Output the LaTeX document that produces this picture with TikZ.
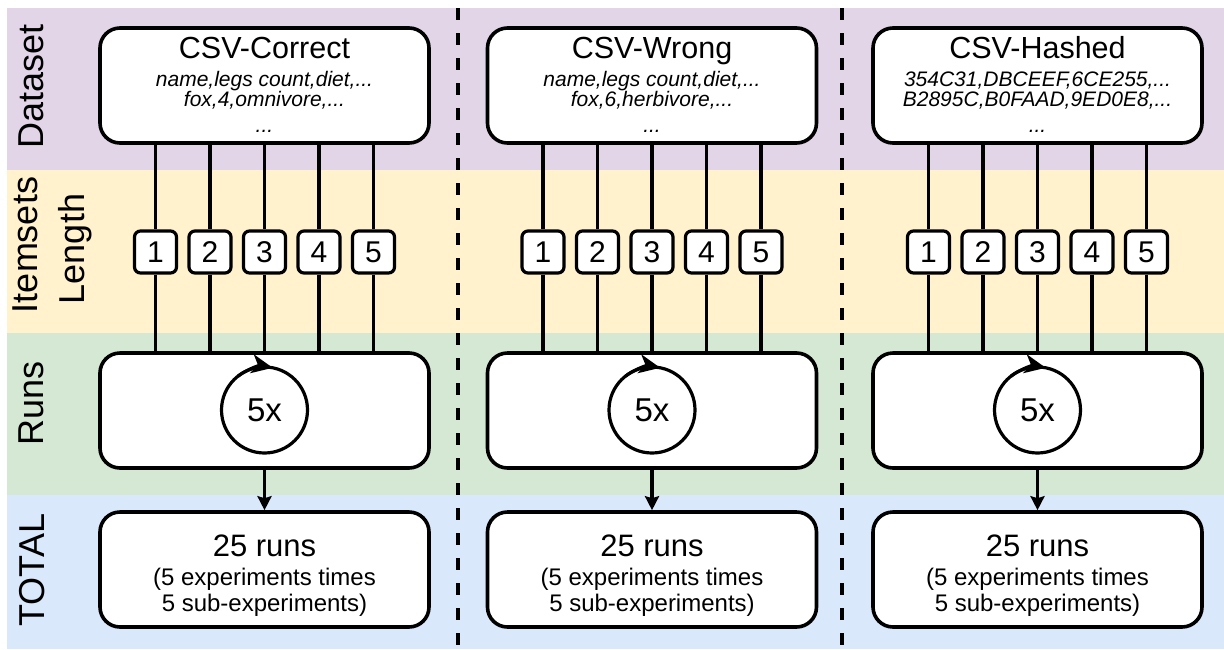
\documentclass[tikz,border=0pt]{standalone}
\usepackage{fontspec}
\setmainfont{Liberation Sans}
\usetikzlibrary{arrows.meta,calc}
\definecolor{bandpurple}{HTML}{E1D5E7}
\definecolor{bandyellow}{HTML}{FFF2CC}
\definecolor{bandgreen}{HTML}{D5E8D4}
\definecolor{bandblue}{HTML}{DAE8FC}
\tikzset{
  bigbox/.style={draw, line width=3.6pt, fill=white, rounded corners=20pt, minimum width=329pt, minimum height=115pt, inner sep=0pt},
  numbox/.style={draw, line width=3.2pt, fill=white, rounded corners=6pt, minimum width=42pt, minimum height=42pt, inner sep=0pt, font=\fontsize{30}{30}\selectfont},
  conn/.style={line width=3.2pt},
  rowlabel/.style={rotate=90, anchor=base, inner sep=0pt, font=\fontsize{36}{36}\selectfont},
  titletext/.style={anchor=base, inner sep=0pt, font=\fontsize{30.5}{30}\selectfont},
  csvtext/.style={anchor=north, inner sep=0pt, align=center, font=\fontsize{21}{20}\selectfont\itshape},
  subtext/.style={anchor=base, inner sep=0pt, font=\fontsize{24}{24}\selectfont},
  sep/.style={line width=4pt, dash pattern=on 12pt off 13pt},
}
\begin{document}
\begin{tikzpicture}[x=1pt,y=-1pt]
\useasboundingbox (0,0) rectangle (1224,649);
% bands
\fill[bandpurple] (7,8) rectangle (1224,170);
\fill[bandyellow] (7,170) rectangle (1224,333);
\fill[bandgreen] (7,333) rectangle (1224,495);
\fill[bandblue] (7,495) rectangle (1224,649);
% row labels
\node[rowlabel] (lblds) at (43,86.5) {Dataset};
\node[rowlabel] (lblit) at (37,245) {Itemsets};
\node[rowlabel] (lblle) at (84,249) {Length};
\node[rowlabel] (lblru) at (43,403.5) {Runs};
\node[rowlabel] (lblto) at (44,570) {TOTAL};
% separators
\coordinate (s1a) at (458,8); \coordinate (s1b) at (458,649);
\coordinate (s2a) at (842,8); \coordinate (s2b) at (842,649);
\draw[sep] (s1a) -- (s1b);
\draw[sep] (s2a) -- (s2b);
% columns
\foreach \c/\cx/\ttl/\la/\lb in {
  1/264.5/{CSV-Correct}/{name,legs count,diet,...}/{fox,4,omnivore,...},
  2/652/{CSV-Wrong}/{name,legs count,diet,...}/{fox,6,herbivore,...},
  3/1037.5/{CSV-Hashed}/{354C31,DBCEEF,6CE255,...}/{B2895C,B0FAAD,9ED0E8,...}}{
  \node[bigbox] (ds\c) at (\cx,85.5) {};
  \node[titletext] (ttl\c) at (\cx,58) {\ttl};
  \node[csvtext] (csv\c) at (\cx,71.5) {\la\\\lb\\[6pt]...};
  \node[bigbox] (run\c) at (\cx,410.5) {};
  \node[bigbox] (tot\c) at (\cx,569.5) {};
  \node[titletext, font=\fontsize{31}{31}\selectfont] (tt\c) at (\cx,556) {25 runs};
  \node[subtext] (sa\c) at (\cx,585) {(5 experiments times};
  \node[subtext] (sb\c) at (\cx,611) {5 sub-experiments)};
  \foreach \k in {1,...,5}{
    \node[numbox] (n\c\k) at ({\cx+(\k-3)*54.5},252) {\k};
    \draw[conn] (n\c\k |- ds\c.south) -- (n\c\k.north);
    \draw[conn] (n\c\k.south) -- (n\c\k |- run\c.north);
  }
  \node[circle, draw, line width=3.2pt, minimum size=86pt, inner sep=0pt, font=\fontsize{33}{33}\selectfont] (loop\c) at (\cx,410) {5x};
  \draw[line width=3.2pt, -{Stealth[length=21pt,width=19pt,inset=6pt]}] (loop\c.center) ++(-128:43) arc[start angle=-128, end angle=-79, radius=43];
  \draw[line width=3.2pt, -{Stealth[length=14pt,width=14pt,inset=2pt]}] (run\c.south) -- (tot\c.north);
}
\end{tikzpicture}
\end{document}
